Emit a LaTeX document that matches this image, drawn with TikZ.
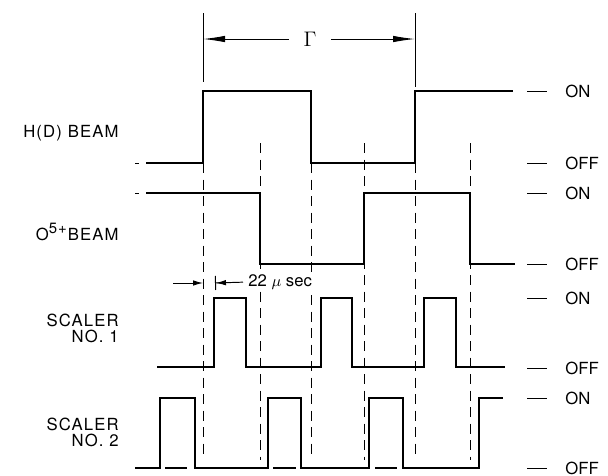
\documentclass[tikz,border=0pt]{standalone}
\usepackage{fontspec}
\setmainfont{TeX Gyre Heros}
\newfontfamily\lblfont[LetterSpace=7]{TeX Gyre Heros}
\usetikzlibrary{positioning, arrows.meta}

\begin{document}
\begin{tikzpicture}[x=0.2mm, y=-0.2mm,
                wave/.style={line width=1.1pt, line join=miter},
                guide/.style={line width=0.45pt, dash pattern=on 2mm off 1.3mm},
                rule/.style={line width=0.55pt},
                sidelbl/.style={font=\lblfont\fontsize{9.5}{9.2}\selectfont,
                    anchor=east, align=right, inner sep=0pt},
                lvllbl/.style={font=\fontsize{9.5}{9.2}\selectfont,
                    anchor=west, inner sep=0pt},
                arr/.style={-{Latex[length=4.4mm, width=1.3mm]}, rule},
                marr/.style={-{Latex[length=2mm, width=1.1mm]}, rule}
            ]
                \useasboundingbox (0,0) rectangle (608,475);

                % period marker
                \coordinate (g1) at (203,39);
                \coordinate (g2) at (415,39);
                \draw[rule] (203,13) -- (203,82);
                \draw[rule] (415,13) -- (415,87);
                \node[font=\large, minimum width=8.4mm, inner sep=0pt] (gam) at (310,39) {$\Gamma$};
                \draw[arr] (gam) -- (g1);
                \draw[arr] (gam) -- (g2);

                % timing guides
                \foreach \gx/\gy in {203/163, 260/143, 311/163, 364/143, 415/163, 470/143}
                    \draw[guide] (\gx,\gy) -- (\gx,460);

                % signal names
                \node[sidelbl] (hbeam) at (119,133) {H(D) BEAM};
                \node[sidelbl] (obeam) at (119,232)
                    {O\textsuperscript{\fontsize{8.5}{8}\selectfont 5+}BEAM};
                \node[sidelbl] (sc1) at (119,328) {SCALER\\NO. 1};
                \node[sidelbl] (sc2) at (119,432) {SCALER\\NO. 2};

                % waveforms
                \draw[rule] (135,163) -- (139,163);
                \draw[wave] (146,163) -| (203,91) -| (311,163) -| (415,91) -- (513,91);

                \draw[rule] (135,193) -- (139,193);
                \draw[wave] (146,193) -| (260,264) -| (364,193) -| (470,264) -- (515,264);

                \draw[wave] (157,367) -| (214,298) -| (246,367) -| (321,298) -| (352,367)
                    -| (424,298) -| (456,367) -- (505,367);

                \draw[wave] (135,468) -| (160,398) -| (195,468) -| (268,398) -| (301,468)
                    -| (369,398) -| (403,468) -| (479,398) -- (503,398);
                \foreach \a/\b in {165/187, 273/296, 375/397}
                    \draw[wave] (\a,468) -- (\b,468);

                % levels
                \foreach \ly/\lt in {91/ON, 163/OFF, 193/ON, 264/OFF, 298/ON, 368/OFF, 398/ON, 468/OFF} {
                    \draw[rule] (527,\ly) -- (547,\ly);
                    \node[lvllbl] (lvl-\ly) at (565,\ly) {\lt};
                }

                % delay
                \coordinate (m0) at (173,283);
                \coordinate (m1) at (203,283);
                \coordinate (m2) at (215,283);
                \node[lvllbl, fill=white, inner ysep=1pt] (musec) at (248,282) {22 $\mu$ sec};
                \draw[marr] (m0) -- (m1);
                \draw[-{Latex[length=2mm, width=1.1mm]Bar[width=2.8mm]}, rule,
                      shorten <=1mm] (musec.west) -- (m2);

            \end{tikzpicture}
\end{document}
